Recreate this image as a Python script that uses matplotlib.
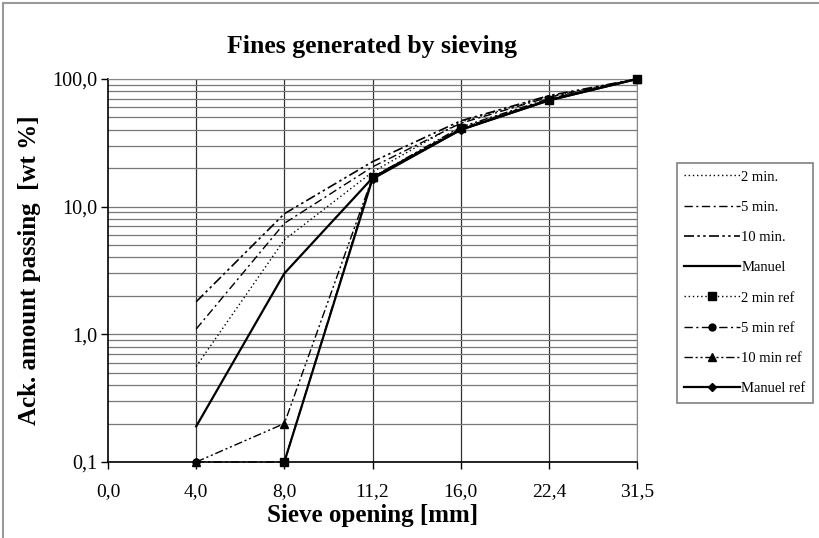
import numpy as np
import matplotlib.pyplot as plt
from matplotlib.patches import Rectangle

plt.rcParams["font.family"] = ["Liberation Serif", "DejaVu Serif"]

# Sieve openings (category axis) and accumulated passing [wt %]
sieves = ["0,0", "4,0", "8,0", "11,2", "16,0", "22,4", "31,5"]
two_min = [0.56, 5.5, 18.7, 46, 73, 100]
five_min = [1.1, 7.4, 20.5, 45, 72, 100]
ten_min = [1.8, 8.8, 22.5, 47, 74, 100]
manuel = [0.19, 3.0, 16.8, 40, 68, 100]
two_min_ref = [np.nan, 0.1, 17, 41, 69, 100]
five_min_ref = [0.1, 0.1, 17, 41, 69, 100]
ten_min_ref = [0.1, 0.2, 17, 42, 70, 100]
manuel_ref = [np.nan, 0.1, 16.5, 40, 68, 100]

yticks = [0.1, 1, 10, 100]
yticklabels = ["0,1", "1,0", "10,0", "100,0"]

x = np.arange(1, len(sieves))

dot = (0, (1, 2))
dashdot = (0, (6, 2.5, 1.5, 2.5))
dashdotdot = (0, (6, 2, 1.5, 2, 1.5, 2))

fig = plt.figure(figsize=(8.19, 5.38), dpi=100)
ax = fig.add_axes([0.1319, 0.1413, 0.6459, 0.7119])

# gridlines
for v in x:
    ax.axvline(v, color="#333333", lw=0.9, zorder=1)
ax.set_yscale("log")
ax.set_ylim(0.1, 100)
ax.set_xlim(0, len(sieves) - 1)
ax.grid(True, which="both", axis="y", color="#777777", lw=0.9, zorder=1)

kw = dict(color="black", clip_on=False, zorder=3)
ax.plot(x, two_min, ls=dot, lw=1.0, label="2 min.", **kw)
ax.plot(x, five_min, ls=dashdot, lw=1.0, label="5 min.", **kw)
ax.plot(x, ten_min, ls=dashdotdot, lw=1.2, label="10 min.", **kw)
ax.plot(x, manuel, ls="-", lw=1.6, label="Manuel", **kw)
ax.plot(x, two_min_ref, ls=dot, lw=1.0, marker="s", ms=6, label="2 min ref", **kw)
ax.plot(x, five_min_ref, ls=dashdot, lw=1.0, marker="o", ms=5, label="5 min ref", **kw)
ax.plot(x, ten_min_ref, ls=dashdotdot, lw=1.0, marker="^", ms=6, label="10 min ref", **kw)
ax.plot(x, manuel_ref, ls="-", lw=1.6, marker="D", ms=4, label="Manuel ref", **kw)

ax.set_xticks(np.arange(len(sieves)))
ax.set_xticklabels(sieves, fontsize=14)
ax.set_yticks(yticks)
ax.set_yticklabels(yticklabels, fontsize=14.5)
ax.yaxis.set_minor_formatter(plt.NullFormatter())
ax.tick_params(axis="y", which="minor", length=0)
ax.tick_params(axis="both", which="major", direction="out", length=5, width=1)
ax.tick_params(axis="x", pad=10)
ax.tick_params(axis="y", pad=3)

for s in ["top", "right"]:
    ax.spines[s].set_color("#888888")
for s in ["left", "bottom"]:
    ax.spines[s].set_color("black")
    ax.spines[s].set_linewidth(1.2)

ax.set_xlabel("Sieve opening [mm]", fontsize=18, fontweight="bold", labelpad=3)
ax.set_ylabel("Ack. amount passing  [wt %]", fontsize=18, fontweight="bold", labelpad=8)
fig.text(0.454, 0.914, "Fines generated by sieving", fontsize=18.5, fontweight="bold",
         ha="center", va="center")

leg = fig.legend(loc="upper left", bbox_to_anchor=(0.8266, 0.697), borderaxespad=0,
                 fontsize=10.5, labelspacing=1.17, handlelength=3.8, handletextpad=0.1,
                 fancybox=False, edgecolor="#808080", framealpha=1, borderpad=0.5)
leg.get_frame().set_linewidth(1.2)

# outer chart border
fig.patches.append(Rectangle((3 / 819, -0.05), 1.1, 1 - 3 / 538 + 0.05,
                             transform=fig.transFigure, fill=False,
                             edgecolor="#999999", lw=1.5))

fig.savefig("out.png", dpi=100)
